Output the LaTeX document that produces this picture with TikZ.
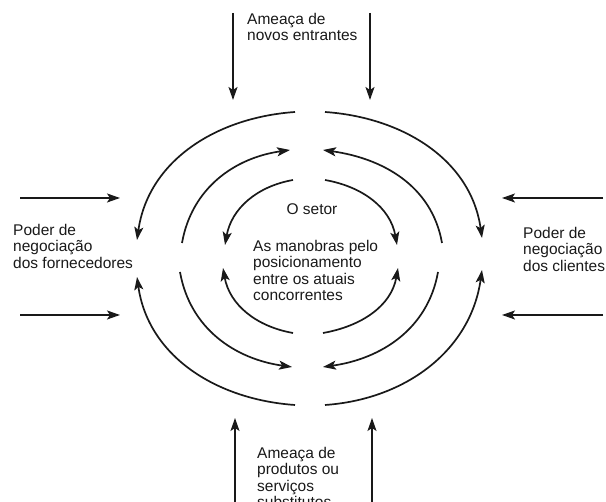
\documentclass[tikz,border=0pt]{standalone}
\usepackage{fontspec}
\setmainfont{Liberation Sans}
\usetikzlibrary{arrows.meta}

\tikzset{
  ink/.style={draw=black!90, line width=1.7pt},
  arr/.style={ink, -{Stealth[length=13pt, width=9pt, inset=3pt]}},
  lbl/.style={inner sep=0pt, align=left, text=black!90,
              font=\fontsize{15.5}{16.5}\selectfont},
}

\begin{document}
\begin{tikzpicture}[x=1pt, y=1pt]
  \useasboundingbox (0,0) rectangle (606,502);

  % ---- labels ----
  \node[lbl, anchor=north west] (top) at (247,489) {Ameaça de\\novos entrantes};
  \node[lbl, anchor=north west] (lft) at (13,278) {Poder de\\negociação\\dos fornecedores};
  \node[lbl, anchor=north west] (rgt) at (523,275) {Poder de\\negociação\\dos clientes};
  \node[lbl, anchor=north] (setor) at (312,299) {O setor};
  \node[lbl, anchor=north west] (mid) at (253,262) {As manobras pelo\\posicionamento\\entre os atuais\\concorrentes};
  \node[lbl, anchor=north west] (bot) at (257,55) {Ameaça de\\produtos ou\\serviços\\substitutos};

  % ---- straight force arrows ----
  \coordinate (tLs) at (233,489); \coordinate (tLe) at (233,402);
  \coordinate (tRs) at (370,489); \coordinate (tRe) at (370,402);
  \coordinate (bLs) at (235,-2);  \coordinate (bLe) at (235,84);
  \coordinate (bRs) at (372,-2);  \coordinate (bRe) at (372,84);
  \coordinate (lTs) at (20,304);  \coordinate (lTe) at (120,304);
  \coordinate (lBs) at (20,187);  \coordinate (lBe) at (120,187);
  \coordinate (rTs) at (603,304); \coordinate (rTe) at (502,304);
  \coordinate (rBs) at (603,187); \coordinate (rBe) at (502,187);

  \foreach \a in {tL,tR,bL,bR,lT,lB,rT,rB}
    \draw[arr] (\a s) -- (\a e);

  % ---- outer ring ----
  \coordinate (oULs) at (295,390); \coordinate (oULe) at (137,262);
  \coordinate (oURs) at (325,390); \coordinate (oURe) at (482,264);
  \coordinate (oLLs) at (295,97);  \coordinate (oLLe) at (137,225);
  \coordinate (oLRs) at (325,97);  \coordinate (oLRe) at (482,232);
  \draw[arr] (oULs) to[out=184, in=82]  (oULe);
  \draw[arr] (oURs) to[out=-4,  in=98]  (oURe);
  \draw[arr] (oLLs) to[out=176, in=-82] (oLLe);
  \draw[arr] (oLRs) to[out=4,   in=-98] (oLRe);

  % ---- middle ring ----
  \coordinate (mULs) at (182,259); \coordinate (mULe) at (290,352);
  \coordinate (mURs) at (442,259); \coordinate (mURe) at (323,352);
  \coordinate (mLLs) at (180,230); \coordinate (mLLe) at (292,135);
  \coordinate (mLRs) at (438,230); \coordinate (mLRe) at (323,135);
  \draw[arr] (mULs) to[out=80,   in=188] (mULe);
  \draw[arr] (mURs) to[out=100,  in=-8]  (mURe);
  \draw[arr] (mLLs) to[out=-80,  in=172] (mLLe);
  \draw[arr] (mLRs) to[out=-100, in=8]   (mLRe);

  % ---- inner ring ----
  \coordinate (iULs) at (293,322); \coordinate (iULe) at (225,257);
  \coordinate (iURs) at (325,322); \coordinate (iURe) at (397,257);
  \coordinate (iLLs) at (293,169); \coordinate (iLLe) at (223,234);
  \coordinate (iLRs) at (323,169); \coordinate (iLRe) at (398,234);
  \draw[arr] (iULs) to[out=190, in=80]   (iULe);
  \draw[arr] (iURs) to[out=-10, in=100]  (iURe);
  \draw[arr] (iLLs) to[out=170, in=-80]  (iLLe);
  \draw[arr] (iLRs) to[out=10,  in=-100] (iLRe);
\end{tikzpicture}
\end{document}
